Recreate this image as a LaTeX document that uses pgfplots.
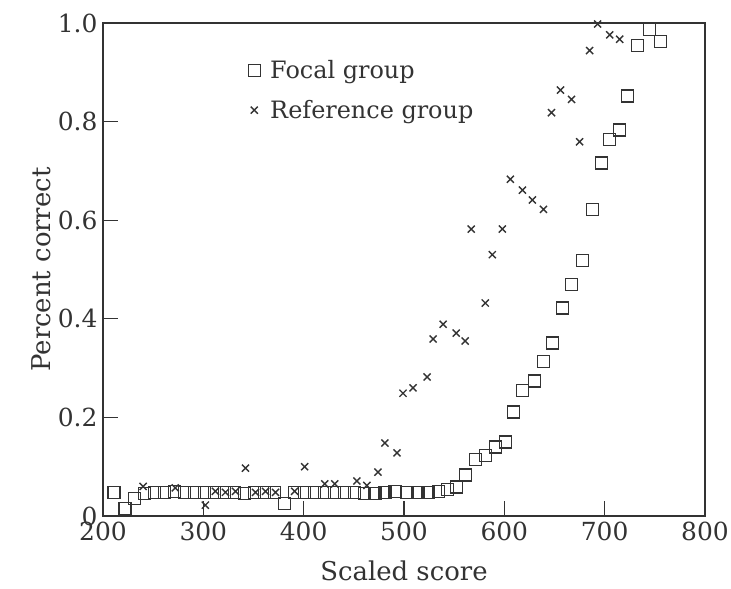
\documentclass[border=0pt]{standalone}
\usepackage{pgfplots}
\pgfplotsset{compat=1.18}
\usepackage{fontspec}
\setmainfont{DejaVu Serif}
\definecolor{ink}{gray}{0.2}
\begin{document}
\begin{tikzpicture}
\begin{axis}[
  width=602bp, height=493bp, scale only axis,
  xmin=200, xmax=800, ymin=0, ymax=1,
  xtick={200,300,400,500,600,700,800},
  ytick={0,0.2,0.4,0.6,0.8,1.0},
  yticklabels={0,0.2,0.4,0.6,0.8,1.0},
  xticklabels={200,300,400,500,600,700,800},
  /pgf/number format/assume math mode=true,
  tick pos=left, tick align=inside,
  major tick length=15bp,
  axis line style={ink, line width=1.4bp},
  every tick/.style={ink, line width=1.2bp},
  ticklabel style={font=\fontsize{25}{29}\selectfont, text=ink},
  label style={font=\fontsize{26}{30}\selectfont, text=ink},
  xlabel={Scaled score},
  ylabel={Percent correct},
  xticklabel style={yshift=-2bp},
  yticklabel style={xshift=-2bp},
  xlabel style={yshift=-14bp},
  clip=false,
  legend style={draw=none, fill=none, at={(0.236,0.932)}, anchor=north west,
    font=\fontsize{24}{28}\selectfont, text=ink, row sep=16bp},
  legend cell align=left,
]
\addplot[only marks, mark=square, mark size=6bp, ink, line width=1.2bp] coordinates {
(211,0.047) (222,0.015) (231,0.035) (241,0.045) (251,0.047) (261,0.047)
(271,0.050) (281,0.048) (291,0.047) (301,0.047) (311,0.047) (321,0.048)
(331,0.048) (341,0.045) (351,0.047) (361,0.048) (371,0.047) (381,0.026)
(391,0.047) (401,0.047) (411,0.047) (421,0.048) (431,0.048) (441,0.047)
(451,0.047) (461,0.045) (471,0.046) (481,0.047) (491,0.050) (503,0.048)
(514,0.047) (524,0.047) (534,0.049) (543,0.053) (552,0.059) (561,0.083)
(571,0.115) (581,0.123) (591,0.140) (601,0.150) (609,0.211) (618,0.254)
(630,0.274) (639,0.313) (648,0.351) (658,0.422) (667,0.470) (678,0.519)
(688,0.622) (697,0.716) (705,0.763) (715,0.783) (723,0.852) (733,0.955)
(745,0.986) (756,0.963)
};
\addlegendentry{\hspace{8bp}Focal group}
\addplot[only marks, mark=x, mark size=5bp, ink, line width=1.4bp] coordinates {
(240,0.060) (272,0.057) (302,0.022) (312,0.050) (322,0.048) (332,0.050)
(342,0.097) (352,0.048) (362,0.050) (372,0.048) (391,0.050) (401,0.100)
(421,0.065) (431,0.065) (453,0.071) (463,0.062) (474,0.089) (481,0.148)
(493,0.128) (499,0.249) (509,0.260) (523,0.282) (529,0.359) (539,0.389)
(552,0.371) (561,0.355) (567,0.582) (581,0.432) (588,0.530) (598,0.582)
(606,0.683) (618,0.661) (628,0.641) (639,0.622) (647,0.818) (656,0.864)
(667,0.845) (675,0.759) (685,0.944) (693,0.998) (705,0.976) (715,0.967)
};
\addlegendentry{\hspace{8bp}Reference group}
\end{axis}
\pgfresetboundingbox
\path[use as bounding box] ([xshift=-103bp,yshift=-73bp]current axis.south west) rectangle ([xshift=26bp,yshift=23bp]current axis.north east);
\end{tikzpicture}
\end{document}
